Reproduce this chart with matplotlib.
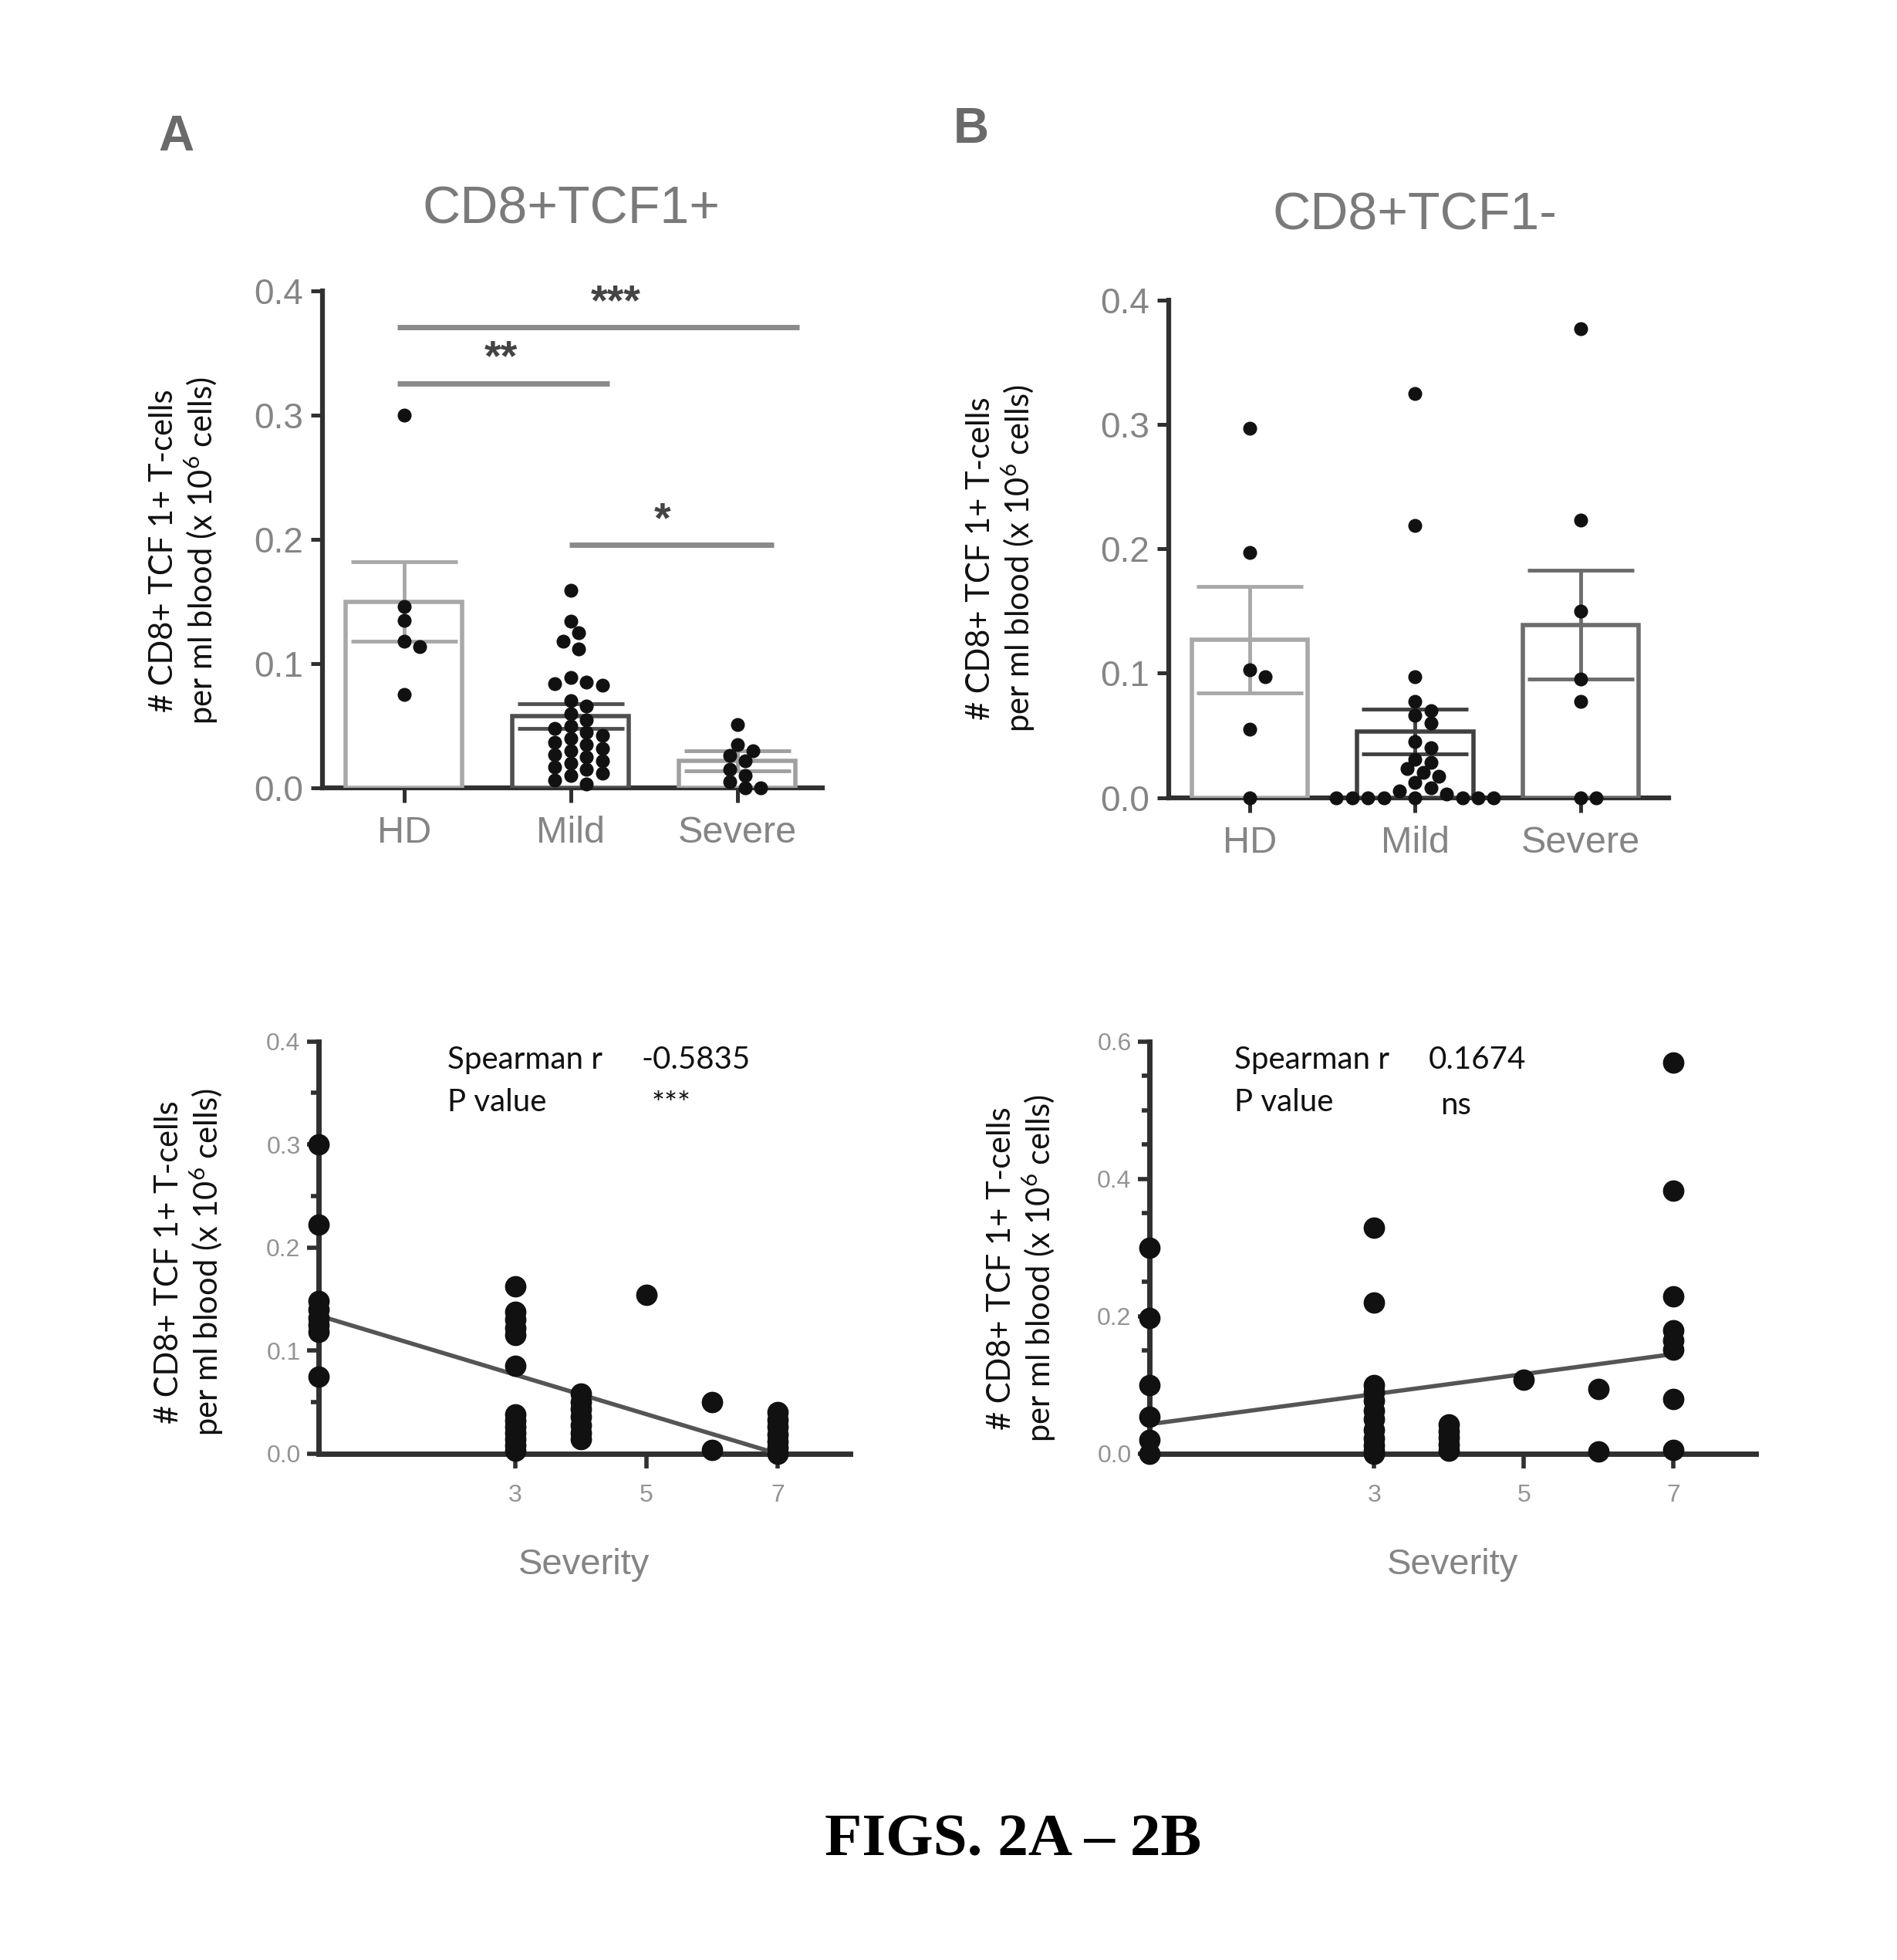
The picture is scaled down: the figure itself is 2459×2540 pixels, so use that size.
import numpy as np
import matplotlib
matplotlib.use("Agg")
import matplotlib.pyplot as plt

plt.rcParams["font.family"] = ["Liberation Sans", "DejaVu Sans"]
plt.rcParams["mathtext.fontset"] = "custom"
plt.rcParams["mathtext.rm"] = "Lato"

# ---- data ----
categories = ["HD", "Mild", "Severe"]

# panel A (CD8+TCF1+)
a_hd = [0.30, 0.146, 0.135, 0.118, 0.114, 0.075]
a_mild = [0.159, 0.134, 0.125, 0.118, 0.112, 0.089, 0.085, 0.084, 0.083,
          0.07, 0.066, 0.06, 0.055, 0.05, 0.048, 0.045, 0.042, 0.04, 0.037,
          0.035, 0.032, 0.03, 0.027, 0.025, 0.022, 0.02, 0.017, 0.015,
          0.012, 0.01, 0.006, 0.003]
a_severe = [0.051, 0.035, 0.03, 0.026, 0.022, 0.015, 0.01, 0.005, 0.0, 0.0]
a_means = [0.150, 0.058, 0.022]
a_sem = [0.032, 0.010, 0.008]

# panel B (CD8+TCF1-)
b_hd = [0.297, 0.197, 0.103, 0.097, 0.055, 0.0]
b_mild = [0.325, 0.219, 0.097, 0.077, 0.07, 0.066, 0.06, 0.045, 0.04, 0.031,
          0.028, 0.023, 0.02, 0.017, 0.012, 0.008, 0.005, 0.003,
          0.0, 0.0, 0.0, 0.0, 0.0, 0.0, 0.0, 0.0]
b_severe = [0.377, 0.223, 0.15, 0.095, 0.077, 0.0, 0.0]
b_means = [0.127, 0.053, 0.139]
b_sem = [0.043, 0.018, 0.044]

# significance brackets for A: (x start, x end, y, label, label x, label y)
sig_a = [(-0.04, 2.37, 0.371, "***", 1.27, 0.374),
         (-0.04, 1.23, 0.326, "**", 0.58, 0.329),
         (0.99, 2.22, 0.196, "*", 1.55, 0.199)]

# correlation vs severity, left (TCF1+)
c_sev = [0, 0, 0, 0, 0, 0, 0, 0,
         3, 3, 3, 3, 3, 3, 3, 3, 3, 3, 3, 3, 3,
         4, 4, 4, 4, 4, 4, 4,
         5,
         6, 6,
         7, 7, 7, 7, 7, 7, 7]
c_val = [0.30, 0.222, 0.148, 0.14, 0.132, 0.125, 0.118, 0.075,
         0.162, 0.138, 0.13, 0.122, 0.115, 0.085, 0.038, 0.032, 0.026, 0.02,
         0.014, 0.008, 0.003,
         0.058, 0.05, 0.043, 0.036, 0.028, 0.02, 0.014,
         0.154,
         0.05, 0.004,
         0.04, 0.033, 0.026, 0.019, 0.012, 0.006, 0.0]
c_fit_x = [0, 7]
c_fit_y = [0.134, 0.0]

# correlation vs severity, right (TCF1-)
d_sev = [0, 0, 0, 0, 0, 0,
         3, 3, 3, 3, 3, 3, 3, 3, 3, 3, 3, 3,
         4, 4, 4, 4, 4,
         5,
         6, 6,
         7, 7, 7, 7, 7, 7, 7, 7]
d_val = [0.30, 0.197, 0.10, 0.054, 0.02, 0.0,
         0.329, 0.22, 0.10, 0.09, 0.077, 0.063, 0.05, 0.035, 0.022, 0.012,
         0.004, 0.0,
         0.043, 0.033, 0.023, 0.013, 0.004,
         0.108,
         0.094, 0.003,
         0.569, 0.383, 0.229, 0.18, 0.165, 0.152, 0.08, 0.005]
d_fit_x = [0, 7]
d_fit_y = [0.043, 0.145]

AXIS = "#303030"
TXT = "#858585"


def swarm(vals, y_span, ax_h_px, cat_px, diam_px):
    # simple beeswarm: offsets in category units
    order = np.argsort(vals)[::-1]
    placed = []
    offs = np.zeros(len(vals))
    step = diam_px * 0.6
    for i in order:
        y = vals[i] / y_span * ax_h_px
        for k in range(40):
            dx = ((k + 1) // 2) * step * (1 if k % 2 else -1)
            if all((dx - px) ** 2 + (y - py) ** 2 >= (diam_px * 0.9) ** 2
                   for px, py in placed):
                break
        placed.append((dx, y))
        offs[i] = dx / cat_px
    return offs


def style_axes(ax, lw=4.5):
    for s in ["top", "right"]:
        ax.spines[s].set_visible(False)
    for s in ["left", "bottom"]:
        ax.spines[s].set_linewidth(lw)
        ax.spines[s].set_color(AXIS)
        ax.spines[s].set_zorder(1)
    ax.tick_params(which="both", direction="out", color=AXIS, width=lw * 0.8)


def bar_panel(ax, groups, means, sem, edge_cols, xlim):
    x = np.arange(len(categories))
    ax.bar(x, means, width=0.7, color="white", edgecolor=edge_cols,
           linewidth=4, zorder=2)
    for i in x:
        ax.errorbar(i, means[i], yerr=sem[i], color=edge_cols[i], elinewidth=3.5,
                    capsize=50, capthick=3.5, zorder=3)
    ax_h = ax.get_position().height * fig.get_figheight() * fig.dpi
    cat_px = ax.get_position().width * fig.get_figwidth() * fig.dpi / (xlim[1] - xlim[0])
    for i, g in enumerate(groups):
        g = np.array(g)
        offs = swarm(g, 0.4, ax_h, cat_px, 17)
        ax.plot(i + offs, g, "o", ms=12, color="#111111", mec="#111111",
                zorder=4, clip_on=False)
    ax.set_xlim(*xlim)
    ax.set_ylim(0, 0.4)
    ax.set_yticks([0.0, 0.1, 0.2, 0.3, 0.4])
    ax.set_yticklabels(["0.0", "0.1", "0.2", "0.3", "0.4"])
    ax.set_xticks(x)
    ax.set_xticklabels(categories)
    style_axes(ax)
    ax.tick_params(axis="y", length=11, labelsize=33, labelcolor=TXT, pad=7)
    ax.tick_params(axis="x", length=14, labelsize=35, labelcolor=TXT, pad=12)


def corr_panel(ax, sev, vals, fx, fy, ymax, major, rtext, ptext, tx, vx):
    ax.plot(fx, fy, color="#555555", lw=4, zorder=2, solid_capstyle="butt")
    ax.plot(sev, vals, "o", ms=19, color="#111111", zorder=3, clip_on=False)
    ax.set_xlim(0, 8.1)
    ax.set_ylim(0, ymax)
    ax.set_xticks([3, 5, 7])
    ax.set_yticks(major)
    ax.set_yticklabels(["%.1f" % v for v in major])
    ax.set_yticks(np.arange(0, ymax + 0.001, 0.05), minor=True)
    style_axes(ax, lw=5)
    ax.tick_params(axis="y", which="major", length=11, labelsize=23,
                   labelcolor="#939393", pad=6)
    ax.tick_params(axis="y", which="minor", length=7)
    ax.tick_params(axis="x", length=14, labelsize=23, labelcolor="#939393", pad=14)
    ax.set_xlabel("Severity", fontsize=34, color=TXT, labelpad=38)
    kw = dict(transform=ax.transAxes, fontsize=29, family="Lato", va="center",
              color="#111111")
    ax.text(tx, 0.955, "Spearman r", **kw)
    ax.text(vx, 0.955, rtext, **kw)
    ax.text(tx, 0.852, "P value", **kw)
    ax.text(vx + 0.02, 0.845, ptext, **kw)


fig = plt.figure(figsize=(24.59, 25.40), dpi=100)

axA = fig.add_axes([0.170, 0.598, 0.2635, 0.2534])
axB = fig.add_axes([0.616, 0.5931, 0.2635, 0.2538])
axC = fig.add_axes([0.168, 0.2583, 0.280, 0.2104])
axD = fig.add_axes([0.606, 0.2583, 0.3196, 0.2104])

bar_panel(axA, [a_hd, a_mild, a_severe], a_means, a_sem,
          ["#a8a8a8", "#505050", "#a0a0a0"], (-0.49, 2.51))
bar_panel(axB, [b_hd, b_mild, b_severe], b_means, b_sem,
          ["#a8a8a8", "#404040", "#6c6c6c"], (-0.49, 2.53))

for x0, x1, y, lab, lx, ly in sig_a:
    axA.plot([x0, x1], [y, y], color="#8a8a8a", lw=5, solid_capstyle="butt",
             clip_on=False)
    axA.text(lx, ly, lab, fontsize=40, color="#444444", ha="center",
             va="bottom", fontweight="bold")

corr_panel(axC, c_sev, c_val, c_fit_x, c_fit_y, 0.4,
           [0.0, 0.1, 0.2, 0.3, 0.4], "-0.5835", "***", 0.242, 0.607)
corr_panel(axD, d_sev, d_val, d_fit_x, d_fit_y, 0.6,
           [0.0, 0.2, 0.4, 0.6], "0.1674", "ns", 0.140, 0.46)

ylab = "# CD8+ TCF 1+ T-cells\nper ml blood (x $\\mathregular{10^{6}}$ cells)"
for x, y in [(0.097, 0.719), (0.528, 0.715), (0.100, 0.356), (0.539, 0.353)]:
    fig.text(x, y, ylab, rotation=90, ha="center", va="center", fontsize=30,
             family="Lato", color="#111111", linespacing=1.15)

fig.text(0.301, 0.893, "CD8+TCF1+", fontsize=49, color="#7a7a7a",
         ha="center", va="center")
fig.text(0.746, 0.890, "CD8+TCF1-", fontsize=49, color="#7a7a7a",
         ha="center", va="center")
fig.text(0.093, 0.930, "A", fontsize=46, color="#6a6a6a", ha="center",
         va="center", fontweight="bold")
fig.text(0.512, 0.934, "B", fontsize=46, color="#6a6a6a", ha="center",
         va="center", fontweight="bold")

fig.text(0.534, 0.0606, "FIGS. 2A \u2013 2B", fontsize=57,
         family="Liberation Serif", fontweight="bold", ha="center",
         va="center", color="black")

fig.savefig("out.png", dpi=100)
